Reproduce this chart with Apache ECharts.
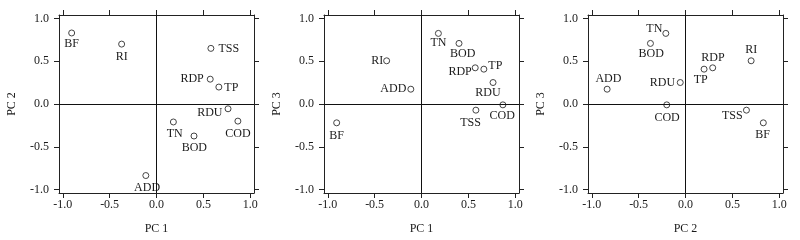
<!DOCTYPE html>
<html>
<head>
<meta charset="utf-8">
<script src="https://cdn.jsdelivr.net/npm/echarts@6/dist/echarts.min.js"></script>
<style>html,body{margin:0;padding:0;background:#fff;}#c{width:800px;height:240px;}</style>
</head>
<body>
<div id="c"></div>
<script>
const variables = ['BF','RI','TSS','RDP','TP','RDU','COD','TN','BOD','ADD'];
const pc1 = [-0.905, -0.372, 0.58, 0.573, 0.665, 0.763, 0.868, 0.18, 0.40, -0.114];
const pc2 = [0.83, 0.70, 0.65, 0.29, 0.198, -0.056, -0.20, -0.21, -0.374, -0.836];
const pc3 = [-0.22, 0.505, -0.072, 0.423, 0.407, 0.251, -0.01, 0.825, 0.708, 0.173];
const tickValues = [-1, -0.5, 0, 0.5, 1];
const panels = [
  {x: pc1, y: pc2, xName: 'PC 1', yName: 'PC 2'},
  {x: pc1, y: pc3, xName: 'PC 1', yName: 'PC 3'},
  {x: pc2, y: pc3, xName: 'PC 2', yName: 'PC 3'}
];

// label placement per panel: [position, distance or dx, dy]
const labelPlace = [
  {BF:['inside',0,11], RI:['inside',0,12.3], TSS:['right',4,0], RDP:['left',3,0], TP:['right',2,0.7],
   RDU:['left',2,4.3], COD:['inside',0,12.3], TN:['inside',1.3,12], BOD:['inside',0.3,12.3], ADD:['inside',1.3,12]},
  {TN:['inside',0,9.7], BOD:['inside',3.7,10.3], RI:['left',0,0], RDP:['left',0,3.7], TP:['right',1,-3.3],
   RDU:['inside',-5,10.3], ADD:['left',1,0], TSS:['inside',-5.3,12.3], COD:['inside',-0.7,11], BF:['inside',0,13]},
  {TN:['left',0,-4.7], BOD:['inside',0.7,10.7], ADD:['inside',1.3,-10], RDU:['left',1.7,0.7], COD:['inside',0.3,12.7],
   RDP:['inside',0.3,-10], TP:['inside',-3.3,10.7], RI:['inside',0,-11], TSS:['left',0.3,5.7], BF:['inside',-0.7,12.3]}
];

const lefts = [59, 324, 588];
const FONT = 'Liberation Serif';
const TXT = '#1a1a1a';
const AX = '#222';

const grids = [], xAxes = [], yAxes = [], series = [];
panels.forEach((p, i) => {
  grids.push({left: lefts[i], top: 15, width: 195, height: 178, containLabel: false});
  const base = {
    type: 'value', gridIndex: i, min: -1.04, max: 1.04,
    splitLine: {show: false},
    axisLine: {show: true, onZero: false, lineStyle: {color: AX, width: 1}},
    axisTick: {show: true, inside: false, length: 5, customValues: tickValues, lineStyle: {color: AX}},
  };
  xAxes.push(Object.assign({}, base, {
    position: 'bottom', name: p.xName, nameLocation: 'middle', nameGap: 30,
    nameTextStyle: {fontFamily: FONT, fontSize: 12, color: TXT},
    axisLabel: {show: true, customValues: tickValues, margin: 6, fontFamily: FONT, fontSize: 12, color: TXT,
      formatter: v => v.toFixed(1)}
  }));
  xAxes.push(Object.assign({}, base, {position: 'top', axisLabel: {show: false}}));
  yAxes.push(Object.assign({}, base, {
    position: 'left', name: p.yName, nameLocation: 'middle', nameGap: 41,
    nameTextStyle: {fontFamily: FONT, fontSize: 12, color: TXT},
    axisLabel: {show: true, customValues: tickValues, margin: 10, fontFamily: FONT, fontSize: 12, color: TXT,
      formatter: v => v.toFixed(1)}
  }));
  yAxes.push(Object.assign({}, base, {position: 'right', axisLabel: {show: false}}));

  const data = variables.map((name, k) => {
    const lp = labelPlace[i][name];
    const lab = {show: true, formatter: name, fontFamily: FONT, fontSize: 12, color: TXT};
    if (lp[0] === 'inside') { lab.position = 'inside'; lab.offset = [lp[1], lp[2]]; }
    else { lab.position = lp[0]; lab.distance = lp[1]; lab.offset = [0, lp[2]]; }
    return {name: name, value: [p.x[k], p.y[k]], label: lab};
  });
  series.push({
    type: 'scatter', xAxisIndex: 2 * i, yAxisIndex: 2 * i,
    symbol: 'circle', symbolSize: 6,
    itemStyle: {color: '#ffffff', borderColor: '#444', borderWidth: 1, opacity: 1},
    emphasis: {disabled: true},
    data: data,
    markLine: {
      silent: true, symbol: 'none', animation: false,
      label: {show: false},
      lineStyle: {color: '#111', type: 'solid', width: 1},
      data: [{xAxis: 0}, {yAxis: 0}]
    },
    z: 3
  });
});

const chart = echarts.init(document.getElementById('c'), null, {renderer: 'canvas'});
chart.setOption({
  animation: false,
  backgroundColor: '#fff',
  grid: grids, xAxis: xAxes, yAxis: yAxes, series: series
});
</script>
</body>
</html>
